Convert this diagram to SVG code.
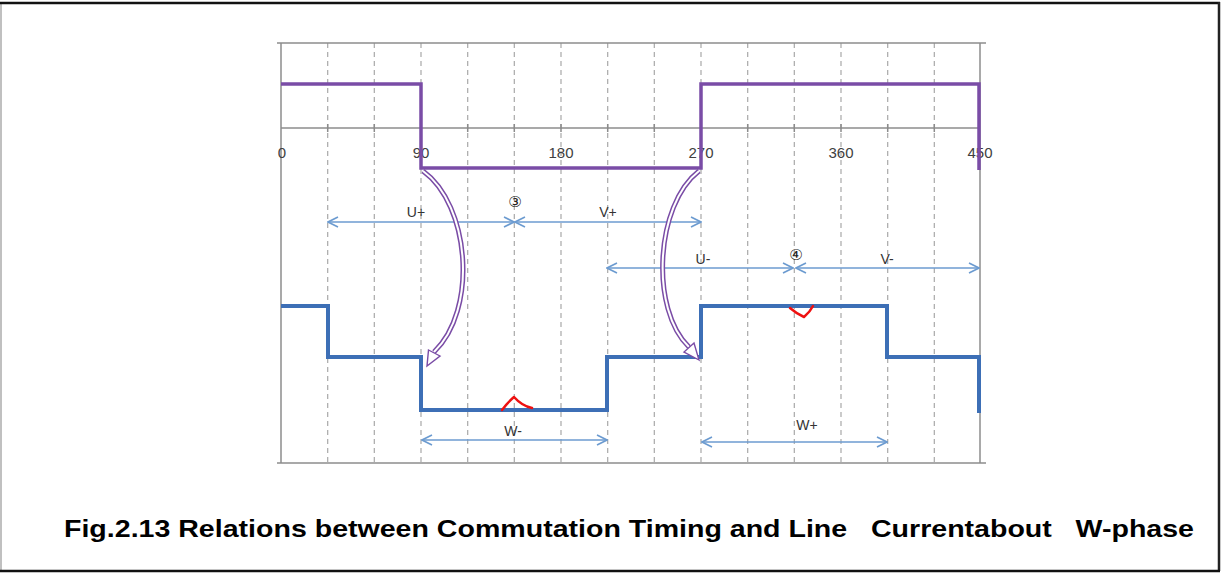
<svg xmlns="http://www.w3.org/2000/svg" width="1224" height="573" viewBox="0 0 1224 573">
<style>
.grid{stroke:#a8a8a8;stroke-width:1.2;stroke-dasharray:5,4;fill:none}
.axis{stroke:#8c8c8c;stroke-width:1.5;fill:none}
.purple{stroke:#7a4ca6;stroke-width:3.5;fill:none;stroke-linejoin:miter}
.blue{stroke:#3d6fb6;stroke-width:4;fill:none;stroke-linejoin:miter}
.red{stroke:#ee1111;stroke-width:2.5;fill:none;stroke-linejoin:round;stroke-linecap:round}
.dim{stroke:#6c9bd0;stroke-width:1.6;fill:none}
.num{font-family:"Liberation Sans",Arial,sans-serif;font-size:15px;fill:#404040;text-anchor:middle}
.lbl{font-family:"Liberation Sans",Arial,sans-serif;font-size:14px;fill:#333;text-anchor:middle}
.circ{font-family:"DejaVu Sans","Noto Sans CJK JP",sans-serif;font-size:15px;fill:#222;text-anchor:middle}
.cap{font-family:"Liberation Sans",Arial,sans-serif;font-size:24px;font-weight:bold;fill:#000;white-space:pre}
.cb-out{stroke:#7a4ca6;stroke-width:5;fill:none}
.cb-in{stroke:#ffffff;stroke-width:2;fill:none}
.cb-head{stroke:#7a4ca6;stroke-width:1.4;fill:#ffffff;stroke-linejoin:miter}
</style>
<defs>
<marker id="open" viewBox="0 0 12 12" refX="11" refY="6" markerWidth="12" markerHeight="12" markerUnits="userSpaceOnUse" orient="auto-start-reverse">
<path d="M1,1 L11,6 L1,11" fill="none" stroke="#6c9bd0" stroke-width="1.6"/>
</marker>
</defs>
<rect x="0" y="0" width="1224" height="573" fill="#ffffff"/>
<g id="frame">
<line x1="1" y1="3" x2="1" y2="571" stroke="#c0c0c0" stroke-width="2"/>
<line x1="0" y1="3" x2="1220" y2="3" stroke="#111" stroke-width="2.5"/>
<line x1="1219" y1="2" x2="1219" y2="571" stroke="#222" stroke-width="2.5"/>
<line x1="0" y1="571" x2="1220" y2="571" stroke="#111" stroke-width="2.5"/>
</g>
<g id="grid">
<line class="grid" x1="327.7" y1="43" x2="327.7" y2="463"/>
<line class="grid" x1="374.3" y1="43" x2="374.3" y2="463"/>
<line class="grid" x1="421" y1="43" x2="421" y2="463"/>
<line class="grid" x1="467.7" y1="43" x2="467.7" y2="463"/>
<line class="grid" x1="514.3" y1="43" x2="514.3" y2="463"/>
<line class="grid" x1="561" y1="43" x2="561" y2="463"/>
<line class="grid" x1="607.7" y1="43" x2="607.7" y2="463"/>
<line class="grid" x1="654.3" y1="43" x2="654.3" y2="463"/>
<line class="grid" x1="701" y1="43" x2="701" y2="463"/>
<line class="grid" x1="747.7" y1="43" x2="747.7" y2="463"/>
<line class="grid" x1="794.3" y1="43" x2="794.3" y2="463"/>
<line class="grid" x1="841" y1="43" x2="841" y2="463"/>
<line class="grid" x1="887.7" y1="43" x2="887.7" y2="463"/>
<line class="grid" x1="934.3" y1="43" x2="934.3" y2="463"/>
</g>
<g id="axes">
<line class="axis" x1="277" y1="43" x2="986" y2="43"/>
<line class="axis" x1="277" y1="463" x2="986" y2="463"/>
<line class="axis" x1="281" y1="43" x2="281" y2="463"/>
<line class="axis" x1="980" y1="43" x2="980" y2="463"/>
<line class="axis" x1="281" y1="128" x2="980" y2="128"/>
<path class="axis" d="M327.7,124v8M374.3,124v8M421,124v8M467.7,124v8M514.3,124v8M561,124v8M607.7,124v8M654.3,124v8M701,124v8M747.7,124v8M794.3,124v8M841,124v8M887.7,124v8M934.3,124v8"/>
<text class="num" x="282" y="158">0</text>
<text class="num" x="421" y="158">90</text>
<text class="num" x="561" y="158">180</text>
<text class="num" x="701" y="158">270</text>
<text class="num" x="841" y="158">360</text>
<text class="num" x="980" y="158">450</text>
</g>
<g id="hall-signal">
<path class="purple" d="M281,84 H421 V168 H701 V84 H979 V170"/>
</g>
<g id="w-current">
<path class="blue" d="M281,306 H328 V357 H421 V410 H607 V357 H701 V306 H887 V357 H979 V413"/>
<path class="red" d="M502,410 Q508,402 514,397 Q522,406 532,408"/>
<path class="red" d="M790,308 Q797,314 804,317 Q810,312 813,306"/>
</g>
<g id="connectors">
<line class="dim" x1="328" y1="222" x2="514" y2="222" marker-start="url(#open)" marker-end="url(#open)"/>
<line class="dim" x1="515" y1="222" x2="701" y2="222" marker-start="url(#open)" marker-end="url(#open)"/>
<line class="dim" x1="607" y1="268" x2="793" y2="268" marker-start="url(#open)" marker-end="url(#open)"/>
<line class="dim" x1="796" y1="268" x2="979" y2="268" marker-start="url(#open)" marker-end="url(#open)"/>
<line class="dim" x1="422" y1="440" x2="607" y2="440" marker-start="url(#open)" marker-end="url(#open)"/>
<line class="dim" x1="702" y1="442" x2="887" y2="442" marker-start="url(#open)" marker-end="url(#open)"/>
<path class="cb-out" d="M423,171 C470,205 478,310 434,352"/>
<path class="cb-in" d="M423,171 C470,205 478,310 434,352"/>
<polygon class="cb-head" points="427,366 428.5,350 440,356"/>
<path class="cb-out" d="M699,171 C655,205 650,310 689,347"/>
<path class="cb-in" d="M699,171 C655,205 650,310 689,347"/>
<polygon class="cb-head" points="699,360 684,352 694,343"/>
</g>
<g id="labels">
<text class="lbl" x="416" y="217">U+</text>
<text class="circ" x="515" y="207">③</text>
<text class="lbl" x="608" y="217">V+</text>
<text class="lbl" x="703" y="264">U-</text>
<text class="circ" x="796" y="260">④</text>
<text class="lbl" x="887" y="264">V-</text>
<text class="lbl" x="513" y="436">W-</text>
<text class="lbl" x="807" y="430">W+</text>
</g>
<g id="caption">
<text class="cap" x="64" y="537" textLength="1130" lengthAdjust="spacingAndGlyphs">Fig.2.13 Relations between Commutation Timing and Line   Currentabout   W-phase</text>
</g>
</svg>
